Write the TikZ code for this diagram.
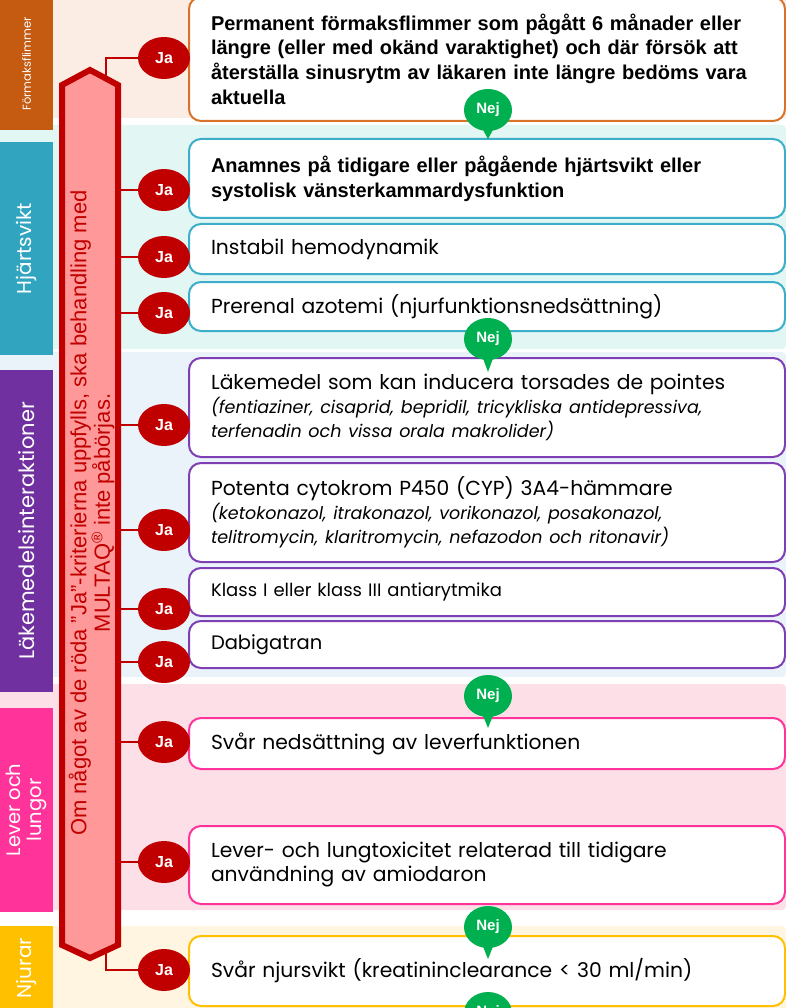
\documentclass[tikz,border=0pt]{standalone}
\usepackage{fontspec}
\setmainfont{Liberation Sans}
\newfontfamily\cg{Poppins}
\usetikzlibrary{shapes.geometric,shapes.callouts}
\definecolor{jared}{HTML}{C00000}
\definecolor{barpink}{HTML}{FF9999}
\definecolor{nejgreen}{HTML}{00B050}
\definecolor{orangecat}{HTML}{C55A11}
\definecolor{tealcat}{HTML}{31A5C0}
\definecolor{purplecat}{HTML}{7030A0}
\definecolor{magentacat}{HTML}{FF3399}
\definecolor{yellowcat}{HTML}{FFC000}
\definecolor{peach}{HTML}{FBEDE4}
\definecolor{cyanband}{HTML}{E2F6F4}
\definecolor{blueband}{HTML}{EAF2FA}
\definecolor{pinkband}{HTML}{FDE0E7}
\definecolor{creamband}{HTML}{FFF5E0}
\definecolor{orangeline}{HTML}{D9732A}
\definecolor{tealline}{HTML}{3DAECA}
\definecolor{purpleline}{HTML}{7E3FB5}
\tikzset{
  jabub/.style={ellipse, fill=jared, text=white, font=\bfseries\fontsize{16}{16}\selectfont, minimum width=52, minimum height=42, inner sep=0},
  nejbub/.style={ellipse callout, fill=nejgreen, text=white, font=\bfseries\fontsize{15}{15}\selectfont, minimum width=48, minimum height=42, inner sep=0, callout pointer arc=22},
  itembox/.style={draw, line width=2, rounded corners=12, fill=white, anchor=north west, minimum width=596, inner xsep=22, inner ysep=0, text width=552, align=left},
  boldtxt/.style={font=\bfseries\fontsize{20}{24.7}\selectfont},
  cgtxt/.style={font=\cg\fontsize{20.3}{24}\selectfont},
  catbar/.style={rotate=90, minimum height=53, inner sep=0, text=white, align=center, font=\cg\fontsize{20}{22}\selectfont},
  conn/.style={draw=jared, line width=2.5},
}
\newcommand{\ital}[1]{{\cg\itshape\fontsize{17.5}{21.5}\selectfont #1}}
\begin{document}
\begin{tikzpicture}[x=1pt,y=-1pt]
\useasboundingbox (0,0) rectangle (786,1008);
% bands
\fill[peach] (0,-5) rectangle (786,118);
\fill[cyanband, rounded corners=4] (0,125) rectangle (786,349);
\fill[blueband, rounded corners=4] (0,352) rectangle (786,677);
\fill[pinkband, rounded corners=4] (0,684) rectangle (786,910);
\fill[creamband, rounded corners=4] (0,926) rectangle (786,1015);
% category bars
\node[catbar, fill=orangecat, minimum width=132, font=\cg\fontsize{11.5}{12}\selectfont] (cat1) at (26.5,64) {Förmaksflimmer};
\node[catbar, fill=tealcat, minimum width=213] (cat2) at (26.5,248.5) {Hjärtsvikt};
\node[catbar, fill=purplecat, minimum width=322, font=\cg\fontsize{21}{22}\selectfont] (cat3) at (26.5,531) {Läkemedelsinteraktioner};
\node[catbar, fill=magentacat, minimum width=204, font=\cg\fontsize{19.5}{21}\selectfont] (cat4) at (26.5,810) {Lever och\\lungor};
\node[catbar, fill=yellowcat, minimum width=84] (cat5) at (26.5,968) {Njurar};
% red bar
\draw[line width=6, draw=jared, fill=barpink] (62,945) -- (62,85) -- (90,70) -- (118,85) -- (118,945) -- (90,958) -- cycle;
\node[rotate=90, align=center, text=jared, font=\fontsize{22}{23.5}\selectfont, inner sep=0] (rule) at (91.5,513)
  {Om något av de röda ”Ja”-kriterierna uppfylls, ska behandling med\\MULTAQ\textsuperscript{®} inte påbörjas.};
% boxes
\node[itembox, draw=orangeline, minimum height=124, boldtxt] (b1) at (188,-4)
  {Permanent förmaksflimmer som pågått 6 månader eller\\längre (eller med okänd varaktighet) och där försök att\\återställa sinusrytm av läkaren inte längre bedöms vara\\aktuella};
\node[itembox, draw=tealline, minimum height=79, boldtxt] (b2) at (188,138)
  {Anamnes på tidigare eller pågående hjärtsvikt eller\\systolisk vänsterkammardysfunktion};
\node[itembox, draw=tealline, minimum height=50, cgtxt] (b3) at (188,223) {Instabil hemodynamik};
\node[itembox, draw=tealline, minimum height=49, cgtxt] (b4) at (188,281) {Prerenal azotemi (njurfunktionsnedsättning)};
\node[itembox, draw=purpleline, minimum height=99, cgtxt] (b5) at (188,357)
  {Läkemedel som kan inducera torsades de pointes\\[1pt]\ital{(fentiaziner, cisaprid, bepridil, tricykliska antidepressiva,\\terfenadin och vissa orala makrolider)}};
\node[itembox, draw=purpleline, minimum height=99, cgtxt] (b6) at (188,462)
  {Potenta cytokrom P450 (CYP) 3A4-hämmare\\[1pt]\ital{(ketokonazol, itrakonazol, vorikonazol, posakonazol,\\telitromycin, klaritromycin, nefazodon och ritonavir)}};
\node[itembox, draw=purpleline, minimum height=48, font=\cg\fontsize{18}{20}\selectfont] (b7) at (188,567) {Klass I eller klass III antiarytmika};
\node[itembox, draw=purpleline, minimum height=47, font=\cg\fontsize{19.5}{20}\selectfont] (b8) at (188,620) {Dabigatran};
\node[itembox, draw=magentacat, minimum height=51, cgtxt] (b9) at (188,717) {Svår nedsättning av leverfunktionen};
\node[itembox, draw=magentacat, minimum height=78, cgtxt] (b10) at (188,825)
  {Lever- och lungtoxicitet relaterad till tidigare\\användning av amiodaron};
\node[itembox, draw=yellowcat, minimum height=70, cgtxt] (b11) at (188,935) {Svår njursvikt (kreatininclearance < 30 ml/min)};
% Ja bubbles
\node[jabub] (ja1) at (164,58) {Ja};
\node[jabub] (ja2) at (164,190) {Ja};
\node[jabub] (ja3) at (164,257) {Ja};
\node[jabub] (ja4) at (164,313) {Ja};
\node[jabub] (ja5) at (164,425) {Ja};
\node[jabub] (ja6) at (164,530) {Ja};
\node[jabub] (ja7) at (164,609) {Ja};
\node[jabub] (ja8) at (164,662) {Ja};
\node[jabub] (ja9) at (164,742) {Ja};
\node[jabub] (ja10) at (164,862) {Ja};
\node[jabub] (ja11) at (164,970) {Ja};
% connectors
\coordinate (top) at (106,77);
\coordinate (bot) at (106,951);
\foreach \i/\y in {2/190,3/257,4/313,5/425,6/530,7/609,8/662,9/742,10/862} {
  \coordinate (c\i) at (121,\y);
}
\draw[conn] (top) |- (ja1.west);
\draw[conn] (bot) |- (ja11.west);
\foreach \i in {2,...,10} { \draw[conn] (c\i) -- (ja\i.west); }
% Nej bubbles
\node[nejbub, callout absolute pointer={(488,139)}] (nej1) at (488,110) {Nej};
\node[nejbub, callout absolute pointer={(488,372)}] (nej2) at (488,339) {Nej};
\node[nejbub, callout absolute pointer={(488,728)}] (nej3) at (488,696) {Nej};
\node[nejbub, callout absolute pointer={(488,959)}] (nej4) at (488,927) {Nej};
\node[nejbub, callout absolute pointer={(488,1045)}] (nej5) at (488,1013) {Nej};
\end{tikzpicture}
\end{document}
